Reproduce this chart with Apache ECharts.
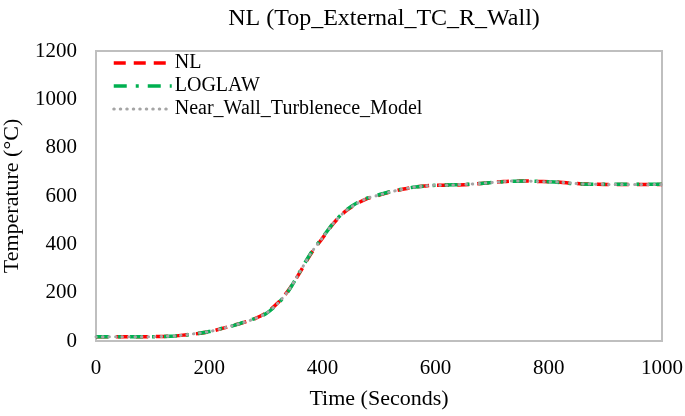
<!DOCTYPE html>
<html><head><meta charset="utf-8">
<script src="https://cdn.jsdelivr.net/npm/echarts@6/dist/echarts.min.js"></script>
<style>html,body{margin:0;padding:0;background:#fff}#c{width:685px;height:416px}</style>
</head><body><div id="c"></div>
<script>
var times = [0,20,40,60,80,100,120,140,160,180,200,220,240,260,280,300,320,340,360,380,400,420,440,460,480,500,520,540,560,580,600,620,640,660,680,700,720,740,760,780,800,820,840,860,880,900,920,940,960,980,1000];
var nl =        [18,18,18,18,18,18,19,21,26,31,38,50,63,76,92,115,155,210,283,362,425,488,535,567,590,603,617,627,636,641,645,645,646,648,652,656,660,662,662,660,659,657,653,650,649,648,648,648,648,648,648];
var loglaw =    [18,18,18,18,18,18,19,21,25,31,39,51,62,77,93,113,152,207,286,365,428,490,538,570,592,605,618,628,636,641,644,646,647,649,652,656,659,661,662,661,659,656,652,650,649,649,649,649,649,649,649];
var nearWall =  [18,18,18,18,18,18,19,21,26,32,39,50,63,76,92,114,153,209,285,364,427,489,536,568,591,604,617,627,636,641,645,645,647,649,652,656,660,662,662,660,659,657,653,650,649,648,648,648,648,648,648];
var yTicks = [0,200,400,600,800,1000,1200];
var xTicks = [0,200,400,600,800,1000];

function pairs(v){ return times.map(function(t,i){ return [t, v[i]]; }); }
var font = 'Liberation Serif';
var styles = {
  NL: { color: '#ff0000', width: 3.5, type: [12, 8] },
  LOGLAW: { color: '#00b050', width: 3.5, type: [13, 9, 3, 9] },
  NW: { color: '#a5a5a5', width: 3, type: [0.5, 6], cap: 'round' }
};
var chart = echarts.init(document.getElementById('c'));
chart.setOption({
  animation: false,
  title: { text: 'NL (Top_External_TC_R_Wall)', left: 379, top: 2, textAlign: 'center',
    textStyle: { fontFamily: font, fontSize: 24, fontWeight: 'normal', color: '#000' } },
  grid: { left: 96, right: 23, top: 51, bottom: 75, show: true, borderColor: '#bfbfbf', borderWidth: 2,
    containLabel: false, outerBoundsMode: 'none' },
  legend: { orient: 'vertical', left: 112, top: 53, itemWidth: 58, itemHeight: 20, itemGap: 3,
    padding: 0, itemStyle: { opacity: 0 },
    textStyle: { fontFamily: font, fontSize: 20, color: '#000', lineHeight: 20, padding: [0,0,0,-2] },
    data: [
      { name: 'NL', lineStyle: styles.NL },
      { name: 'LOGLAW', lineStyle: styles.LOGLAW },
      { name: 'Near_Wall_Turblenece_Model', lineStyle: styles.NW }
    ] },
  xAxis: { type: 'value', min: 0, max: 1000, interval: 200,
    name: 'Time (Seconds)', nameLocation: 'middle', nameGap: 47,
    nameTextStyle: { fontFamily: font, fontSize: 22, color: '#000' },
    axisLine: { show: false }, axisTick: { show: false }, splitLine: { show: false },
    axisLabel: { fontFamily: font, fontSize: 21, color: '#000', margin: 17,
      formatter: function(v){ return xTicks.indexOf(v) >= 0 ? String(v) : ''; } } },
  yAxis: { type: 'value', min: 0, max: 1200, interval: 200,
    name: 'Temperature (°C)', nameLocation: 'middle', nameGap: 73,
    nameTextStyle: { fontFamily: font, fontSize: 22, color: '#000' },
    axisLine: { show: false }, axisTick: { show: false }, splitLine: { show: false },
    axisLabel: { fontFamily: font, fontSize: 21, color: '#000', margin: 19,
      formatter: function(v){ return yTicks.indexOf(v) >= 0 ? String(v) : ''; } } },
  series: [
    { name: 'NL', type: 'line', data: pairs(nl), showSymbol: false, symbol: 'none', smooth: 0.3,
      color: '#ff0000', lineStyle: styles.NL },
    { name: 'LOGLAW', type: 'line', data: pairs(loglaw), showSymbol: false, symbol: 'none', smooth: 0.3,
      color: '#00b050', lineStyle: styles.LOGLAW },
    { name: 'Near_Wall_Turblenece_Model', type: 'line', data: pairs(nearWall), showSymbol: false, symbol: 'none', smooth: 0.3,
      color: '#a5a5a5', lineStyle: styles.NW }
  ]
});
</script></body></html>
